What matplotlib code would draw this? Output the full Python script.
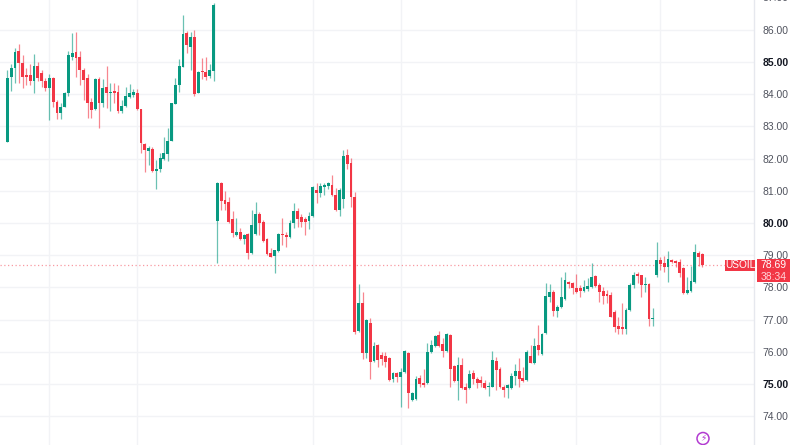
import matplotlib
matplotlib.use("Agg")
import matplotlib.pyplot as plt
from matplotlib.patches import Rectangle, Circle
import numpy as np

plt.rcParams['font.family'] = ['Liberation Sans', 'DejaVu Sans']

# OHLC values (hourly USOIL candles)
opens = [82.52, 84.54, 84.82, 85.35, 84.97, 84.60, 84.60, 84.41, 84.88, 84.66,
         84.41, 84.20, 84.51, 83.76, 83.42, 83.60, 84.04, 85.16, 85.32, 85.16,
         84.76, 84.51, 83.76, 83.54, 84.48, 83.73, 84.23, 84.04, 84.10, 84.07,
         83.48, 83.64, 83.92, 83.98, 84.04, 83.54, 82.46, 82.24, 82.30, 81.62,
         81.68, 82.00, 82.15, 82.55, 83.70, 84.29, 84.85, 85.91, 85.47, 85.78,
         84.04, 84.73, 84.69, 84.57, 84.73, 80.06, 81.24, 80.72, 80.65, 80.12,
         79.63, 79.72, 79.50, 79.66, 79.07, 79.66, 80.28, 80.03, 79.50, 79.07,
         78.97, 79.13, 79.66, 79.63, 79.57, 80.00, 80.37, 80.19, 80.12, 80.06,
         80.22, 81.03, 80.93, 81.12, 81.15, 81.18, 80.87, 80.41, 80.75, 82.11,
         81.87, 80.81, 76.64, 77.51, 75.96, 76.89, 75.71, 76.21, 75.90, 75.87,
         75.80, 75.15, 75.34, 75.21, 75.37, 75.96, 74.50, 74.53, 75.18, 75.03,
         75.03, 75.99, 76.18, 76.52, 76.24, 76.02, 76.52, 75.56, 75.09, 75.59,
         74.90, 74.87, 75.34, 75.15, 75.12, 75.03, 74.90, 74.90, 75.71, 75.46,
         74.90, 74.87, 74.87, 75.24, 75.40, 75.18, 75.12, 75.87, 75.65, 76.21,
         75.93, 76.58, 77.70, 77.86, 77.27, 77.39, 77.64, 78.17, 78.13, 77.98,
         77.98, 77.89, 77.95, 78.01, 78.35, 78.07, 77.89, 77.79, 77.76, 77.23,
         76.80, 76.77, 76.71, 77.30, 78.07, 78.41, 78.38, 78.07, 78.10, 77.02,
         78.38, 78.85, 78.76, 78.63, 78.85, 78.82, 78.79, 78.60, 77.83, 77.89,
         78.17, 79.07, 79.04]
highs = [84.76, 84.94, 85.44, 85.56, 85.22, 84.82, 84.94, 85.25, 85.00, 84.76,
         84.51, 84.63, 84.54, 83.82, 83.73, 84.07, 85.35, 85.91, 85.94, 85.35,
         84.82, 84.63, 83.88, 84.51, 84.54, 84.48, 84.88, 84.35, 84.35, 84.29,
         83.82, 84.23, 84.32, 84.16, 84.16, 83.54, 82.49, 82.40, 82.36, 81.96,
         82.18, 82.67, 82.95, 83.73, 84.51, 85.10, 86.47, 85.97, 85.94, 86.00,
         84.73, 85.13, 85.16, 84.94, 86.84, 81.28, 81.28, 81.00, 80.81, 80.37,
         80.16, 79.85, 79.66, 79.69, 80.41, 80.65, 80.34, 80.09, 79.53, 79.22,
         79.16, 79.69, 80.16, 79.72, 80.09, 80.62, 80.47, 80.28, 80.19, 80.34,
         81.15, 81.24, 81.24, 81.24, 81.28, 81.49, 81.09, 81.09, 82.27, 82.30,
         82.02, 80.96, 78.10, 77.86, 77.02, 77.05, 76.30, 76.24, 75.99, 75.99,
         75.84, 75.37, 75.37, 75.49, 76.05, 75.99, 74.75, 75.24, 75.28, 75.46,
         76.27, 76.36, 76.52, 76.64, 76.43, 76.58, 76.55, 75.59, 75.84, 75.80,
         75.03, 75.43, 75.43, 75.21, 75.24, 75.12, 75.06, 76.02, 75.84, 75.52,
         74.97, 75.00, 75.34, 75.62, 75.80, 75.52, 76.05, 76.21, 76.43, 76.83,
         76.58, 78.13, 78.10, 77.92, 77.45, 78.32, 78.48, 78.20, 78.17, 78.41,
         78.07, 78.23, 78.29, 78.76, 78.38, 78.13, 78.01, 77.92, 77.86, 77.30,
         77.08, 77.51, 77.36, 78.13, 78.48, 78.48, 78.38, 78.32, 78.13, 77.36,
         79.41, 78.94, 78.97, 79.13, 78.88, 78.85, 78.88, 78.63, 78.32, 78.66,
         79.35, 79.13, 79.07]
lows = [82.52, 84.10, 84.35, 84.35, 84.20, 84.29, 84.29, 84.04, 84.41, 84.23,
        84.10, 83.20, 83.60, 83.23, 83.23, 83.60, 83.95, 85.07, 84.54, 84.29,
        83.82, 83.26, 83.26, 83.51, 82.95, 83.60, 83.57, 83.48, 83.73, 83.42,
        83.42, 83.60, 83.88, 83.92, 83.51, 82.18, 81.59, 81.80, 81.59, 81.06,
        81.59, 81.96, 81.93, 82.55, 83.70, 84.07, 84.85, 85.28, 84.76, 83.95,
        84.04, 84.48, 84.45, 84.51, 84.41, 78.76, 80.41, 80.41, 80.00, 79.57,
        79.60, 79.47, 79.35, 78.88, 79.04, 79.63, 79.63, 79.41, 79.00, 78.94,
        78.45, 79.10, 79.32, 79.25, 79.53, 79.85, 79.88, 79.88, 79.63, 79.81,
        80.19, 80.62, 80.81, 80.87, 81.06, 80.84, 80.37, 80.22, 80.47, 81.68,
        80.50, 76.55, 76.61, 75.77, 75.80, 75.15, 75.68, 75.52, 75.58, 75.52,
        75.09, 75.06, 75.06, 74.28, 75.34, 74.25, 74.47, 74.50, 74.90, 74.90,
        75.00, 75.96, 76.15, 76.15, 75.84, 75.99, 74.90, 75.06, 74.50, 74.84,
        74.41, 74.84, 75.00, 74.87, 74.90, 74.84, 74.62, 74.90, 74.81, 74.87,
        74.59, 74.56, 74.84, 74.97, 74.90, 75.06, 75.09, 75.65, 75.62, 75.90,
        75.90, 76.55, 77.54, 77.11, 77.08, 77.36, 77.61, 77.98, 77.79, 77.83,
        77.70, 77.86, 77.89, 77.98, 78.01, 77.54, 77.48, 77.51, 77.08, 76.61,
        76.55, 76.55, 76.55, 77.27, 77.98, 78.13, 77.70, 77.86, 76.80, 76.80,
        78.32, 78.54, 78.48, 78.17, 78.76, 78.63, 78.32, 77.79, 77.79, 77.86,
        78.13, 78.66, 78.63]
closes = [84.51, 84.82, 85.32, 84.97, 84.54, 84.54, 84.41, 84.88, 84.51, 84.41,
          84.20, 84.51, 83.76, 83.42, 83.60, 84.04, 85.22, 85.29, 85.13, 84.76,
          84.45, 83.73, 83.51, 84.48, 83.73, 84.20, 84.04, 84.07, 84.04, 83.48,
          83.64, 83.95, 84.04, 84.07, 83.54, 82.49, 82.27, 82.33, 81.62, 81.68,
          82.02, 82.18, 82.55, 83.73, 84.29, 84.88, 85.88, 85.53, 85.78, 84.01,
          84.69, 84.69, 84.54, 84.76, 86.78, 81.24, 80.69, 80.59, 80.03, 79.69,
          79.72, 79.50, 79.63, 79.07, 79.94, 80.28, 80.00, 79.44, 79.04, 78.94,
          79.16, 79.66, 79.63, 79.57, 80.00, 80.37, 80.12, 80.03, 80.03, 80.22,
          81.12, 80.93, 81.15, 81.18, 81.24, 80.87, 80.41, 81.03, 82.08, 81.83,
          80.81, 76.61, 77.51, 75.96, 76.98, 75.68, 76.18, 75.74, 75.77, 75.68,
          75.12, 75.34, 75.21, 75.37, 76.02, 74.72, 74.72, 75.15, 75.00, 74.97,
          75.99, 76.21, 76.49, 76.18, 76.02, 76.55, 75.46, 75.09, 75.59, 74.87,
          74.81, 75.31, 75.15, 75.03, 75.03, 74.87, 74.93, 75.74, 75.43, 74.90,
          74.81, 74.97, 75.24, 75.40, 75.15, 75.09, 75.99, 75.65, 76.18, 76.05,
          76.55, 77.73, 77.86, 77.27, 77.39, 77.70, 78.23, 78.10, 77.98, 77.86,
          77.89, 78.01, 78.04, 78.32, 78.04, 77.86, 77.73, 77.73, 77.08, 76.77,
          76.71, 76.71, 77.30, 78.07, 78.38, 78.35, 78.07, 78.10, 77.02, 77.05,
          78.85, 78.72, 78.63, 78.88, 78.79, 78.76, 78.45, 77.83, 77.92, 78.20,
          79.10, 78.94, 78.69]

price_ticks = [74, 75, 76, 77, 78, 79, 80, 81, 82, 83, 84, 85, 86]
bold_ticks = [75, 80, 85]
session_breaks = [11, 34, 80, 103, 149, 171]
symbol = "USOIL"
last_price = 78.69
countdown = "38:34"

GREEN = "#089981"
RED = "#f23645"
LABEL = "#50535e"

W, H = 800, 445
fig = plt.figure(figsize=(W / 100, H / 100), dpi=100)
fig.patch.set_facecolor("white")

ax = fig.add_axes([0, 0, 754 / W, 1])
ax.set_facecolor("white")

n = len(opens)
x = np.arange(n)
o = np.array(opens); h = np.array(highs); l = np.array(lows); c = np.array(closes)
up = c >= o
colors = np.where(up, GREEN, RED)

# grid
for p in price_ticks:
    ax.axhline(p, color="#f2f3f6", lw=1.0, zorder=0)
for s in session_breaks:
    ax.axvline(s, color="#f2f3f6", lw=1.0, zorder=0)

# wicks
ax.vlines(x, l, h, colors=colors, lw=0.9, alpha=0.6, zorder=2)
# bodies
bottoms = np.minimum(o, c)
heights = np.maximum(np.abs(c - o), 0.035)
ax.bar(x, heights, bottom=bottoms, width=0.75, color=colors, lw=0, zorder=3)

# last price dotted line
ax.plot([-2, 187.9], [last_price, last_price], color=RED, lw=0.9,
        linestyle=(0, (1, 2)), alpha=0.5, zorder=1)

ax.set_xlim(-1.91, 195.5)
ax.set_ylim(73.10, 86.93)

for side in ["top", "left", "bottom"]:
    ax.spines[side].set_visible(False)
ax.spines["right"].set_color("#e6e8ee")
ax.spines["right"].set_linewidth(1.0)
ax.set_xticks([])
ax.yaxis.tick_right()
ax.set_yticks(price_ticks)
ax.set_yticklabels([f"{p:.2f}" for p in price_ticks])
ax.tick_params(axis="y", length=0, pad=6.3, labelsize=7.5, labelcolor=LABEL)
for lab, p in zip(ax.get_yticklabels(), price_ticks):
    if p in bold_ticks:
        lab.set_fontweight("bold")
        lab.set_color("#131722")

# partially cut label at the top
ax.text(1 + 8.8 / 754, 87, "87.00", transform=ax.get_yaxis_transform(),
        fontsize=7.5, color=LABEL, va="center", ha="left", clip_on=False)

# overlay in pixel coordinates
ov = fig.add_axes([0, 0, 1, 1], facecolor="none")
ov.set_xlim(0, W)
ov.set_ylim(H, 0)
ov.axis("off")

ov.add_patch(Rectangle((725, 259.5), 30, 11.5, color=RED, lw=0))
ov.text(740, 265.4, symbol, color="white", fontsize=7.3, ha="center", va="center")
ov.add_patch(Rectangle((756.5, 259), 33.5, 23, color=RED, lw=0))
ov.text(773.2, 265.4, f"{last_price:.2f}", color="white", fontsize=7.5,
        ha="center", va="center")
ov.text(773.2, 277, countdown, color="#ffd3d8", fontsize=7.5,
        ha="center", va="center")

ov.add_patch(Circle((703, 438.5), 6, fill=False, ec="#b23bd1", lw=1.1))
ov.text(703, 438.8, "\u26A1", color="#b23bd1", fontsize=6.5, ha="center",
        va="center", family=["DejaVu Sans"])

fig.savefig("out.png", dpi=100)
